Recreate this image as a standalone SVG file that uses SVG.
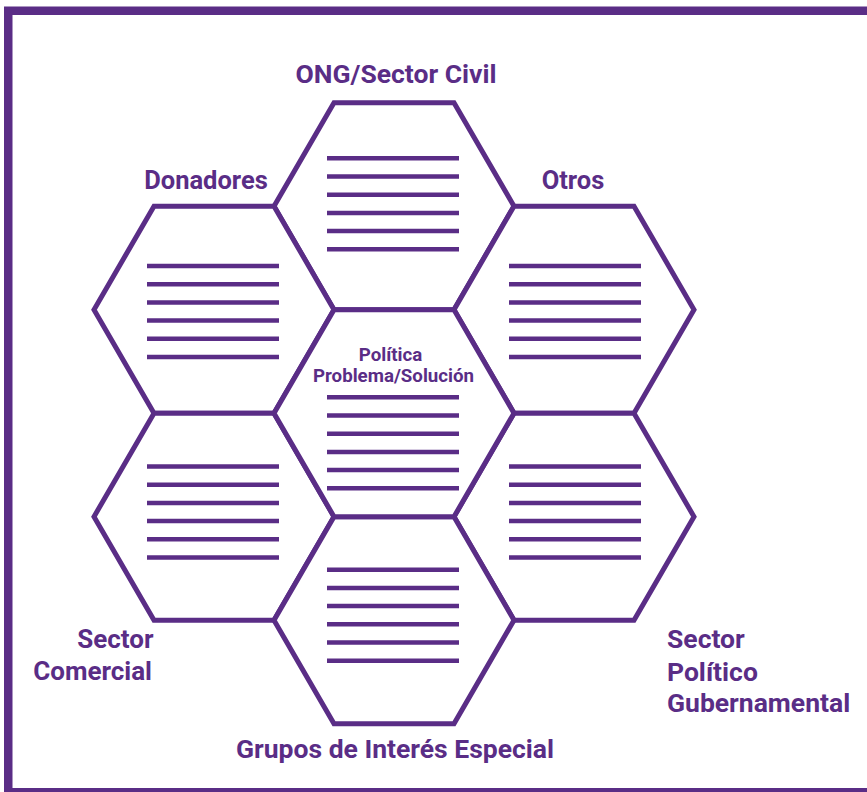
<svg xmlns="http://www.w3.org/2000/svg" width="867" height="792" viewBox="0 0 867 792">
<defs>
<style>
.hex{fill:#fff;stroke:#5a2d86;stroke-width:5;stroke-linejoin:miter}
.ln{stroke:#5a2d86;stroke-width:4.5}
.lbl{font-family:Roboto,"Liberation Sans",sans-serif;font-weight:bold;font-size:26.5px;fill:#5a2d86}
.ctr{font-family:Roboto,"Liberation Sans",sans-serif;font-weight:bold;font-size:18.7px;fill:#5a2d86}
</style>
<path id="hx" d="M-120,0 L-60,-103.5 L60,-103.5 L120,0 L60,103.5 L-60,103.5 Z"/>
<g id="lines6" class="ln">
<line x1="-66" y1="0" x2="66" y2="0"/>
<line x1="-66" y1="18.2" x2="66" y2="18.2"/>
<line x1="-66" y1="36.4" x2="66" y2="36.4"/>
<line x1="-66" y1="54.6" x2="66" y2="54.6"/>
<line x1="-66" y1="72.8" x2="66" y2="72.8"/>
<line x1="-66" y1="91" x2="66" y2="91"/>
</g>
</defs>
<rect x="8.25" y="10.75" width="880" height="781.5" fill="#fff" stroke="#5a2d86" stroke-width="8.5"/>
<g id="connectors"></g>
<g id="hex-top">
<use href="#hx" class="hex" transform="translate(394,206.2)"/>
<use href="#lines6" transform="translate(393,158.3)"/>
<text class="lbl" x="396" y="82.7" text-anchor="middle">ONG/Sector Civil</text>
</g>
<g id="hex-upper-left">
<use href="#hx" class="hex" transform="translate(214,309.7)"/>
<use href="#lines6" transform="translate(213,266)"/>
<text class="lbl" x="206" y="189.3" text-anchor="middle" style="font-size:25.5px">Donadores</text>
</g>
<g id="hex-upper-right">
<use href="#hx" class="hex" transform="translate(574,309.7)"/>
<use href="#lines6" transform="translate(575,266)"/>
<text class="lbl" x="573" y="189.3" text-anchor="middle" style="font-size:25.5px">Otros</text>
</g>
<g id="hex-lower-left">
<use href="#hx" class="hex" transform="translate(214,516.7)"/>
<use href="#lines6" transform="translate(213,466.5)"/>
<text class="lbl" x="153.5" y="648" text-anchor="end" style="font-size:26px">Sector</text>
<text class="lbl" x="152" y="680" text-anchor="end" style="font-size:26px">Comercial</text>
</g>
<g id="hex-lower-right">
<use href="#hx" class="hex" transform="translate(574,516.7)"/>
<use href="#lines6" transform="translate(575,466.5)"/>
<text class="lbl" x="667" y="648">Sector</text>
<text class="lbl" x="667" y="681">Político</text>
<text class="lbl" x="667" y="711.7">Gubernamental</text>
</g>
<g id="hex-bottom">
<use href="#hx" class="hex" transform="translate(394,620.2)"/>
<use href="#lines6" transform="translate(393,569.7)"/>
<text class="lbl" x="395" y="758" text-anchor="middle">Grupos de Interés Especial</text>
</g>
<g id="hex-center">
<use href="#hx" class="hex" transform="translate(394,413.2)"/>
<use href="#lines6" transform="translate(393,397.3)"/>
<text class="ctr" x="390.5" y="361" text-anchor="middle">Política</text>
<text class="ctr" x="393.5" y="381.7" text-anchor="middle">Problema/Solución</text>
</g>
</svg>
